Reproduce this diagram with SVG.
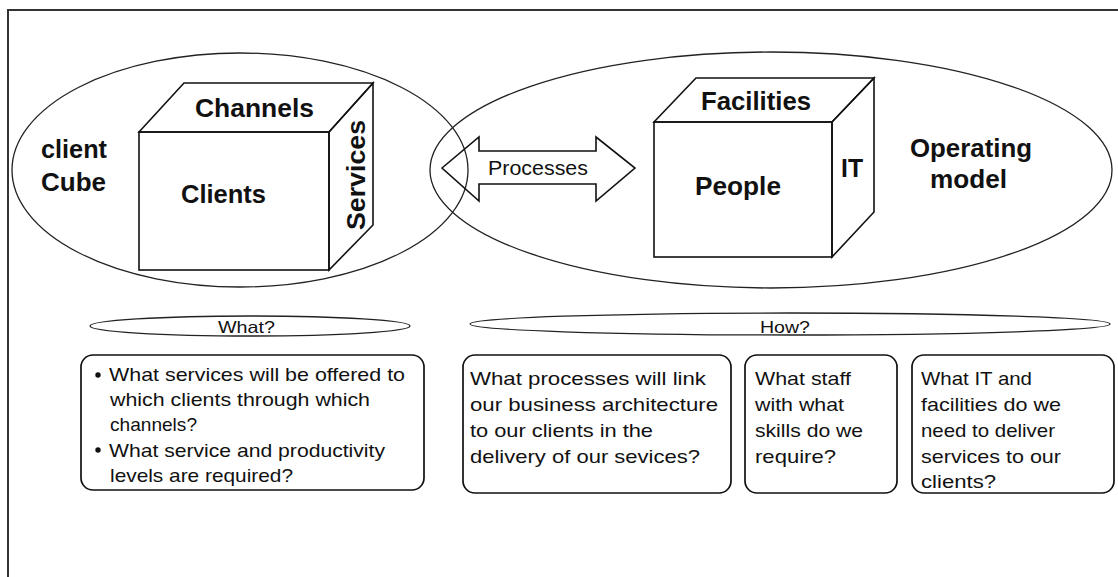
<svg xmlns="http://www.w3.org/2000/svg" width="1118" height="577" viewBox="0 0 1118 577">
<style>
.ln{fill:none;stroke:#111;stroke-width:1.6;stroke-linejoin:miter}
.ell{fill:none;stroke:#222;stroke-width:1.3}
.box{fill:none;stroke:#111;stroke-width:1.7}
.lbl{font-family:"Liberation Sans",Arial,sans-serif;font-weight:bold;font-size:25px;fill:#111}
.body{font-family:"Liberation Sans",Arial,sans-serif;font-size:18.5px;fill:#111}
.small{font-family:"Liberation Sans",Arial,sans-serif;font-size:16.5px;fill:#111}
</style>
<rect x="0" y="0" width="1118" height="577" fill="#fff"/>
<path d="M8,577 V10 H1118" fill="none" stroke="#333" stroke-width="2"/>

<g id="client-cube">
<ellipse class="ell" cx="240" cy="170" rx="228" ry="117"/>
<rect class="ln" x="139" y="132" width="190" height="138"/>
<polygon class="ln" points="139,132 184,83 373,83 329,132"/>
<polygon class="ln" points="329,132 373,83 373,225 329,270"/>
<text class="lbl" x="195" y="117" textLength="119" lengthAdjust="spacingAndGlyphs">Channels</text>
<text class="lbl" x="41" y="158" textLength="66" lengthAdjust="spacingAndGlyphs">client</text>
<text class="lbl" x="41" y="191" textLength="65" lengthAdjust="spacingAndGlyphs">Cube</text>
<text class="lbl" x="181" y="203" textLength="85" lengthAdjust="spacingAndGlyphs">Clients</text>
<text class="lbl" transform="translate(365,230) rotate(-90)" x="0" y="0" textLength="110" lengthAdjust="spacingAndGlyphs">Services</text>
</g>

<g id="operating-model">
<ellipse class="ell" cx="771" cy="170" rx="341" ry="118"/>
<rect class="ln" x="654" y="122" width="178" height="135"/>
<polygon class="ln" points="654,122 696,78 874,78 832,122"/>
<polygon class="ln" points="832,122 874,78 874,212 832,257"/>
<text class="lbl" x="701" y="110" textLength="110" lengthAdjust="spacingAndGlyphs">Facilities</text>
<text class="lbl" x="841" y="177" textLength="22" lengthAdjust="spacingAndGlyphs">IT</text>
<text class="lbl" x="695" y="195" textLength="86" lengthAdjust="spacingAndGlyphs">People</text>
<text class="lbl" x="910" y="157" textLength="122" lengthAdjust="spacingAndGlyphs">Operating</text>
<text class="lbl" x="930" y="188" textLength="77" lengthAdjust="spacingAndGlyphs">model</text>
</g>

<g id="connectors">
<polygon class="ln" stroke-width="1.4" points="442,168 479,137 479,151 596,151 596,137 635,168 596,201 596,184 479,184 479,201"/>
<text x="488" y="175" font-family="Liberation Sans, Arial, sans-serif" font-size="21" fill="#111" textLength="100" lengthAdjust="spacingAndGlyphs">Processes</text>
</g>

<g id="what-banner">
<ellipse class="ell" cx="250" cy="326" rx="160" ry="10"/>
<text class="small" x="218" y="333" textLength="57" lengthAdjust="spacingAndGlyphs">What?</text>
</g>

<g id="how-banner">
<ellipse class="ell" cx="790" cy="324" rx="320" ry="11"/>
<text class="small" x="760" y="333" textLength="50" lengthAdjust="spacingAndGlyphs">How?</text>
</g>

<g id="what-box">
<rect class="box" x="81" y="355" width="343" height="135" rx="12"/>
<circle cx="98" cy="375" r="2.7" fill="#111"/>
<circle cx="98" cy="450" r="2.7" fill="#111"/>
<text class="body" x="109" y="381" textLength="296" lengthAdjust="spacingAndGlyphs">What services will be offered to</text>
<text class="body" x="110" y="406" textLength="260" lengthAdjust="spacingAndGlyphs">which clients through which</text>
<text class="body" x="110" y="431" textLength="87" lengthAdjust="spacingAndGlyphs">channels?</text>
<text class="body" x="109" y="457" textLength="276" lengthAdjust="spacingAndGlyphs">What service and productivity</text>
<text class="body" x="110" y="482" textLength="183" lengthAdjust="spacingAndGlyphs">levels are required?</text>
</g>

<g id="processes-box">
<rect class="box" x="463" y="355" width="268" height="138" rx="12"/>
<text class="body" x="470" y="385" textLength="236" lengthAdjust="spacingAndGlyphs">What processes will link</text>
<text class="body" x="470" y="411" textLength="248" lengthAdjust="spacingAndGlyphs">our business architecture</text>
<text class="body" x="470" y="437" textLength="183" lengthAdjust="spacingAndGlyphs">to our clients in the</text>
<text class="body" x="470" y="463" textLength="230" lengthAdjust="spacingAndGlyphs">delivery of our sevices?</text>
</g>

<g id="staff-box">
<rect class="box" x="745" y="355" width="152" height="138" rx="12"/>
<text class="body" x="755" y="385" textLength="96" lengthAdjust="spacingAndGlyphs">What staff</text>
<text class="body" x="755" y="411" textLength="89" lengthAdjust="spacingAndGlyphs">with what</text>
<text class="body" x="755" y="437" textLength="108" lengthAdjust="spacingAndGlyphs">skills do we</text>
<text class="body" x="755" y="463" textLength="81" lengthAdjust="spacingAndGlyphs">require?</text>
</g>

<g id="it-box">
<rect class="box" x="912" y="355" width="202" height="138" rx="12"/>
<text class="body" x="921" y="385" textLength="111" lengthAdjust="spacingAndGlyphs">What IT and</text>
<text class="body" x="921" y="411" textLength="140" lengthAdjust="spacingAndGlyphs">facilities do we</text>
<text class="body" x="921" y="437" textLength="134" lengthAdjust="spacingAndGlyphs">need to deliver</text>
<text class="body" x="921" y="463" textLength="140" lengthAdjust="spacingAndGlyphs">services to our</text>
<text class="body" x="921" y="488" textLength="75" lengthAdjust="spacingAndGlyphs">clients?</text>
</g>
</svg>
